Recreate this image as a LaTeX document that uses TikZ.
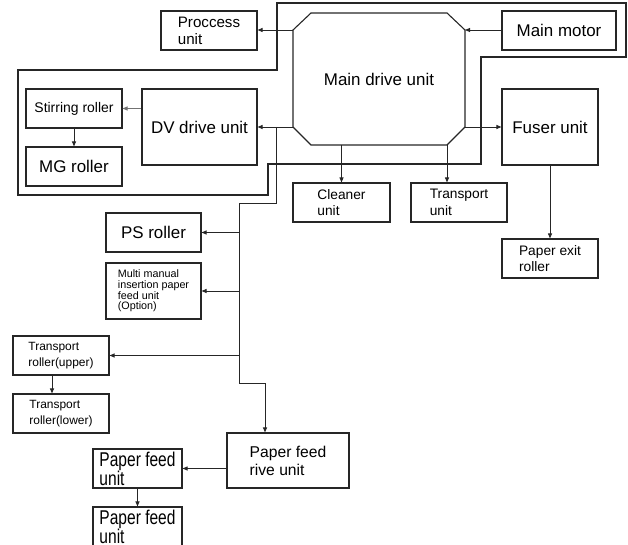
\documentclass[tikz,border=0pt]{standalone}
\usepackage{fontspec}
\setmainfont{Liberation Sans}
\newfontfamily\condsf[FakeStretch=0.78]{Liberation Sans}
\usetikzlibrary{arrows.meta}

\begin{document}
\begin{tikzpicture}[x=1bp, y=-1bp,
  box/.style={draw=black!85, line width=1.1bp, inner sep=0pt, align=left},
  small/.style={box, minimum width=96bp, minimum height=39bp},
  big/.style={box, minimum width=96bp, minimum height=76bp},
  conn/.style={draw=black!85, line width=0.9bp, -{Triangle[length=5bp,width=4bp]}},
  wire/.style={draw=black!85, line width=0.9bp},
  frame/.style={draw=black!85, line width=1.8bp},
  fL/.style={font={\fontsize{17}{19}\selectfont}},
  fM/.style={font={\fontsize{15.2}{17}\selectfont}},
  fS/.style={font={\fontsize{13.8}{16.5}\selectfont}},
  fT/.style={font={\fontsize{12}{16.7}\selectfont}},
  fX/.style={font={\fontsize{10.8}{10.7}\selectfont}},
  fC/.style={font={\condsf\fontsize{20}{19}\selectfont}}]

\useasboundingbox (0,0) rectangle (628,545);

% enclosure around the main drive section
\draw[frame] (277,3) -- (626,3) -- (626,57) -- (481,57) -- (481,164)
  -- (268,164) -- (268,195) -- (18,195) -- (18,70) -- (277,70) -- cycle;

% main drive unit (octagon)
\node[inner sep=0pt, minimum width=172bp, minimum height=132bp, fL] (md) at (379,79) {Main drive unit};
\draw[box] (311,13) -- (447,13) -- (465,30) -- (465,127) -- (447,145)
  -- (311,145) -- (293,127) -- (293,30) -- cycle;
\coordinate (mdlt) at (293,30);
\coordinate (mdlb) at (293,127);
\coordinate (mdrt) at (465,30);
\coordinate (mdrb) at (465,127);
\coordinate (mdbr) at (447,145);

% units
\node[box, minimum width=96bp, minimum height=39bp, fM] (proc) at (209,30.5) {Proccess\\unit};
\node[box, minimum width=114bp, minimum height=39bp, fL] (motor) at (559,30.5) {Main motor};
\node[box, minimum width=115bp, minimum height=76bp, fL] (dv) at (199.5,127) {DV drive unit};
\node[small, font={\fontsize{14}{16}\selectfont}] (stir) at (74,108.5) {Stirring roller};
\node[small, fL] (mg) at (74,166.5) {MG roller};
\node[big, fL] (fuser) at (550,127) {Fuser unit};
\node[small, fS] (exit) at (550,258.5) {Paper exit\\roller};
\node[small, minimum width=97bp, fS] (clean) at (341.5,202.5) {Cleaner\\unit};
\node[small, fS] (tu) at (459,202.5) {Transport\\unit};
\node[small, minimum width=95bp, fL] (ps) at (153.5,232.5) {PS roller};
\node[box, minimum width=95bp, minimum height=56bp, fX] (multi) at (153.5,291) {Multi manual\\insertion paper\\feed unit\\(Option)};
\node[small, fT] (tru) at (61,355.5) {Transport\\roller(upper)};
\node[small, fT] (trl) at (61,413.5) {Transport\\roller(lower)};
\node[box, minimum width=122bp, minimum height=55bp, font={\fontsize{15.7}{18}\selectfont}] (rive) at (288,460.5) {Paper feed\\rive unit};
\node[box, minimum width=89bp, minimum height=39bp, fC] (pf1) at (137.5,468.5) {Paper feed\\unit};
\node[box, minimum width=89bp, minimum height=39bp, fC] (pf2) at (137.5,526.5) {Paper feed\\unit};

% drive connections from the main drive unit
\draw[conn] (mdlt) -- (mdlt -| proc.east);
\draw[conn] (motor.west |- mdrt) -- (mdrt);
\draw[conn] (mdlb) -- (mdlb -| dv.east);
\draw[conn] (mdrb) -- (mdrb -| fuser.west);
\draw[conn] (clean.north |- md.south) -- (clean.north);
\draw[conn] (mdbr) -- (mdbr |- tu.north);
\draw[conn] (fuser.south) -- (exit.north);
\draw[conn, draw=black!55] (dv.west |- stir.east) -- (stir.east);
\draw[conn] (stir.south) -- (mg.north);

% branch line feeding the lower units
\coordinate (b0) at (276,127);
\coordinate (b1) at (276,203);
\coordinate (b2) at (239,203);
\coordinate (b3) at (239,383);
\coordinate (b4) at (265,383);
\draw[conn] (b0) -- (b1) -- (b2) -- (b3) -- (b4) -- (b4 |- rive.north);
\draw[conn] (b2 |- ps.east) -- (ps.east);
\draw[conn] (b2 |- multi.east) -- (multi.east);
\draw[conn] (b2 |- tru.east) -- (tru.east);

\coordinate (tx) at (52,0);
\draw[conn] (tx |- tru.south) -- (tx |- trl.north);
\draw[conn] (rive.west |- pf1.east) -- (pf1.east);
\draw[conn] (pf1.south) -- (pf2.north);
\end{tikzpicture}
\end{document}
